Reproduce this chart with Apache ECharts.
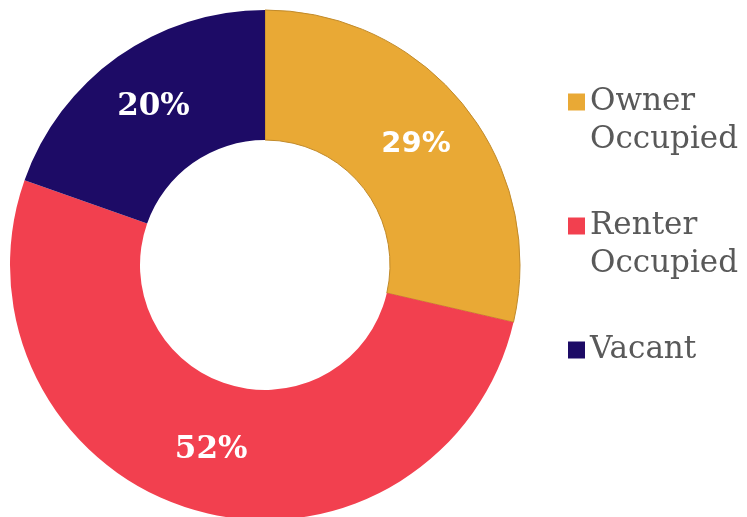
<!DOCTYPE html>
<html>
<head>
<meta charset="utf-8">
<script src="https://cdn.jsdelivr.net/npm/echarts@6/dist/echarts.min.js"></script>
<style>
html, body { margin: 0; padding: 0; background: #fff; }
#chart { width: 747px; height: 517px; }
</style>
</head>
<body>
<div id="chart"></div>
<script>
// housing occupancy shares (percent)
var categories = ['Owner Occupied', 'Renter Occupied', 'Vacant'];
// leading blank line keeps the square beside the first text line
var legendLabels = ['\nOwner\nOccupied', '\nRenter\nOccupied', '\nVacant\n '];
var shares = [28.6, 51.8, 19.6];
var colors = ['#E9A935', '#F2404F', '#1D0B66'];

var myChart = echarts.init(document.getElementById('chart'));

var pieData = [];
for (var i = 0; i < categories.length; i++) {
    pieData.push({
        name: categories[i],
        value: shares[i],
        itemStyle: {
            color: colors[i],
            borderColor: i == 0 ? '#C18A2A' : colors[i],
            borderWidth: i == 0 ? 1 : 0
        },
        label: i == 0 ? { fontFamily: 'DejaVu Sans', fontSize: 29 } : {}
    });
}

var option = {
    animation: false,
    legend: {
        orient: 'vertical',
        left: 568,
        top: 45,
        padding: 0,
        itemGap: 10,
        itemWidth: 17,
        itemHeight: 17,
        icon: 'rect',
        itemStyle: { borderWidth: 0 },
        data: categories,
        formatter: function (name) {
            return legendLabels[categories.indexOf(name)];
        },
        textStyle: {
            fontFamily: 'DejaVu Serif',
            fontSize: 31,
            lineHeight: 38,
            color: '#595959'
        }
    },
    series: [{
        type: 'pie',
        center: [265, 265],
        radius: [125, 255],
        startAngle: 90,
        clockwise: true,
        avoidLabelOverlap: false,
        label: {
            show: true,
            position: 'inside',
            color: '#fff',
            fontFamily: 'DejaVu Serif',
            fontSize: 31,
            fontWeight: 'bold',
            formatter: function (p) {
                return Math.round(p.value) + '%';
            }
        },
        labelLine: { show: false },
        emphasis: { disabled: true },
        data: pieData
    }]
};

myChart.setOption(option);
</script>
</body>
</html>
